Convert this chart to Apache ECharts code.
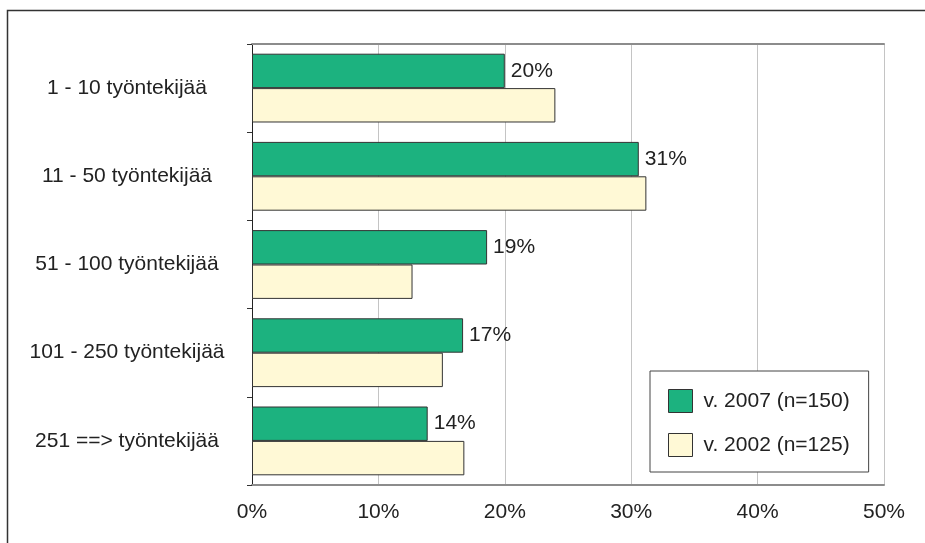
<!DOCTYPE html>
<html>
<head>
<meta charset="utf-8">
<script src="https://cdn.jsdelivr.net/npm/echarts@6/dist/echarts.min.js"></script>
<style>
html,body{margin:0;padding:0;background:#fff;}
#chart{width:925px;height:543px;}
</style>
</head>
<body>
<div id="chart"></div>
<script>
var categories = ['1 - 10 työntekijää', '11 - 50 työntekijää', '51 - 100 työntekijää', '101 - 250 työntekijää', '251 ==> työntekijää'];
var values2007 = [20.0, 30.6, 18.6, 16.7, 13.9];
var values2002 = [24.0, 31.2, 12.7, 15.1, 16.8];
var seriesNames = ['v. 2007 (n=150)', 'v. 2002 (n=125)'];
var xTicks = [0, 10, 20, 30, 40, 50];

var FONT = "'Liberation Sans', Arial, sans-serif";
var chart = echarts.init(document.getElementById('chart'));
chart.setOption({
  animation: false,
  backgroundColor: '#fff',
  textStyle: { fontFamily: FONT },
  grid: { left: 252, right: 41, top: 44, bottom: 58, containLabel: false },
  graphic: [{
    type: 'polyline',
    shape: { points: [[7.5, 543], [7.5, 10.5], [925, 10.5]] },
    style: { stroke: '#333', lineWidth: 1.5, fill: null }
  }],
  xAxis: [{
    type: 'value', min: xTicks[0], max: xTicks[xTicks.length - 1], interval: 10,
    position: 'bottom',
    axisLine: { show: true, lineStyle: { color: '#8c8c8c', width: 2 } },
    axisTick: { show: false },
    splitLine: { show: true, lineStyle: { color: '#c4c4c4', width: 1 } },
    axisLabel: { formatter: '{value}%', fontSize: 21, color: '#222', fontFamily: FONT, margin: 17 }
  }, {
    type: 'value', min: xTicks[0], max: xTicks[xTicks.length - 1], interval: 10,
    position: 'top',
    axisLine: { show: true, lineStyle: { color: '#8c8c8c', width: 2 } },
    axisTick: { show: false }, axisLabel: { show: false }, splitLine: { show: false }
  }],
  yAxis: {
    type: 'category', data: categories, inverse: true,
    axisLine: { show: true, onZero: false, lineStyle: { color: '#222', width: 1 } },
    axisTick: { show: true, length: 5, lineStyle: { color: '#333' } },
    axisLabel: { fontSize: 21, color: '#222', fontFamily: FONT, align: 'center', margin: 125 }
  },
  legend: {
    orient: 'vertical', left: 650, top: 371,
    padding: [18, 19, 15, 18],
    itemWidth: 24, itemHeight: 23, itemGap: 20,
    icon: 'rect',
    backgroundColor: '#fff', borderColor: '#444', borderWidth: 1,
    textStyle: { fontSize: 21, color: '#222', fontFamily: FONT, padding: [0, 0, 0, 6] },
    itemStyle: { borderColor: '#333', borderWidth: 1 },
    data: seriesNames
  },
  series: [{
    name: seriesNames[0], type: 'bar', data: values2007,
    barGap: '0%', barCategoryGap: '22%',
    itemStyle: { color: '#1cb27f', borderColor: '#333', borderWidth: 1 },
    label: {
      show: true, position: 'right', distance: 6, fontSize: 21, color: '#222', fontFamily: FONT,
      formatter: function (p) { return Math.round(p.value) + '%'; }
    }
  }, {
    name: seriesNames[1], type: 'bar', data: values2002,
    barGap: '0%', barCategoryGap: '22%',
    itemStyle: { color: '#fff9d6', borderColor: '#333', borderWidth: 1 }
  }]
});
</script>
</body>
</html>
